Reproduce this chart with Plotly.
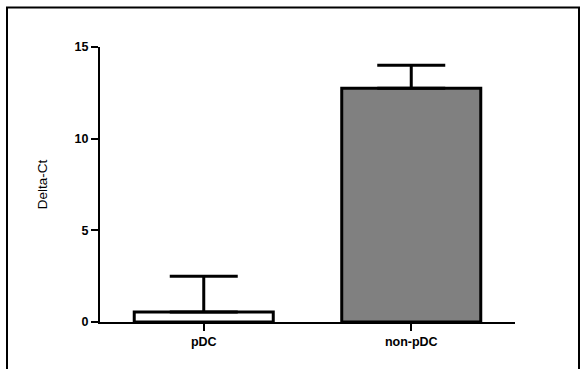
import plotly.graph_objects as go

categories = ["pDC", "non-pDC"]
values = [0.55, 12.75]
errors_up = [1.95, 1.25]
bar_colors = ["#ffffff", "#808080"]
y_ticks = [0, 5, 10, 15]
y_title = "Delta-Ct"

W, H = 582, 369
L, R, T, B = 100, 67, 47, 47

fig = go.Figure()
fig.add_trace(go.Bar(
    x=categories,
    y=values,
    width=0.67,
    marker=dict(color=bar_colors, line=dict(color="black", width=3)),
    error_y=dict(type="data", array=errors_up, arrayminus=[0, 0], symmetric=False,
                 color="black", thickness=3, width=34),
))

font_family = "Liberation Sans, Arial, sans-serif"
fig.update_layout(
    width=W, height=H,
    margin=dict(l=L, r=R, t=T, b=B, autoexpand=False),
    paper_bgcolor="white", plot_bgcolor="white",
    showlegend=False,
    font=dict(family=font_family, color="black", size=12),
    xaxis=dict(
        range=[-0.5, 1.5], showline=True, linecolor="black", linewidth=2,
        ticks="outside", ticklen=7, tickwidth=2, tickcolor="black",
        tickfont=dict(size=12.5, weight="bold", family=font_family),
        showgrid=False, zeroline=False, automargin=False,
    ),
    yaxis=dict(
        range=[0, 15], tickvals=y_ticks, showline=True, linecolor="black", linewidth=2,
        ticks="outside", ticklen=7, tickwidth=2, tickcolor="black",
        tickfont=dict(size=12.5, weight="bold", family=font_family),
        title=dict(text=y_title, font=dict(size=13.5, family=font_family), standoff=24),
        showgrid=False, zeroline=False, automargin=False,
    ),
    shapes=[dict(
        type="rect", xref="paper", yref="paper",
        x0=(7 - L) / (W - L - R), x1=(579 - L) / (W - L - R),
        y0=-0.2, y1=(H - B - 7.5) / (H - T - B),
        line=dict(color="black", width=2), fillcolor="rgba(0,0,0,0)",
    )],
)

fig.write_html("out.html")
